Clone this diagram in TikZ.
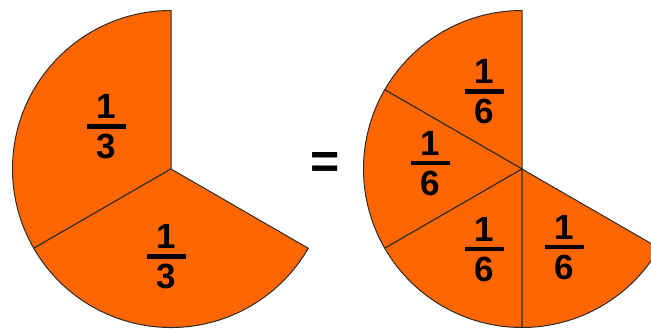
\documentclass[tikz,border=0pt]{standalone}
\usepackage{fontspec}
\setmainfont{Liberation Sans}
\definecolor{pieorange}{HTML}{FF6600}
\definecolor{pieline}{HTML}{2A2A2A}
\tikzset{
  sector/.style={fill=pieorange, draw=pieline, line width=1pt, line join=round},
  digit/.style={inner sep=0pt, font=\fontsize{35}{35}\selectfont\bfseries, text=black},
  fracbar/.style={fill=black, draw=none, minimum width=39pt, minimum height=4.6pt, inner sep=0pt},
}
\newcommand{\fracnode}[4]{%
  \node[fracbar] (#1) at (#2,#3) {};
  \node[digit, anchor=base] (#1num) at ([yshift=7.5pt]#1.center) {1};
  \node[digit, anchor=north] (#1den) at ([yshift=-7.5pt]#1.center) {#4};
}
\begin{document}
\begin{tikzpicture}[x=1pt,y=1pt]
\useasboundingbox (0,0) rectangle (651,329);
\def\R{158.5}
% left pie
\coordinate (lc) at (171,160);
\draw[sector] (lc) -- ++(90:\R) arc[start angle=90, end angle=210, radius=\R] -- cycle;
\draw[sector] (lc) -- ++(210:\R) arc[start angle=210, end angle=330, radius=\R] -- cycle;
% right pie
\begin{scope}
\clip (0,0) rectangle (651,329);
\coordinate (rc) at (522,160);
\draw[sector] (rc) -- ++(90:\R) arc[start angle=90, end angle=150, radius=\R] -- cycle;
\draw[sector] (rc) -- ++(150:\R) arc[start angle=150, end angle=210, radius=\R] -- cycle;
\draw[sector] (rc) -- ++(210:\R) arc[start angle=210, end angle=270, radius=\R] -- cycle;
\draw[sector] (rc) -- ++(270:\R) arc[start angle=270, end angle=330, radius=\R] -- cycle;
\end{scope}
% fractions
\fracnode{fa}{106.5}{202.5}{3}
\fracnode{fb}{166.5}{72.5}{3}
\fracnode{ra}{484}{237.5}{6}
\fracnode{rb}{430.5}{166}{6}
\fracnode{rc6}{484}{80}{6}
\fracnode{rd}{564}{82}{6}
% equals
\node[inner sep=0pt, font=\fontsize{50}{50}\selectfont\bfseries] (eq) at (325,163) {=};
\end{tikzpicture}
\end{document}
